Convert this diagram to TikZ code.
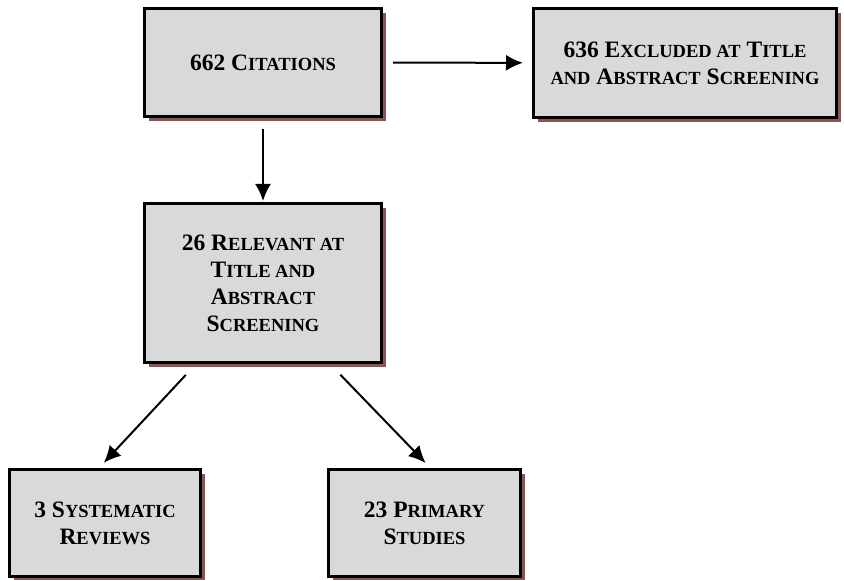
\documentclass[tikz,border=0pt]{standalone}
\usepackage{fontspec}
\setmainfont{Liberation Serif}
\usetikzlibrary{shadows,arrows.meta}
\newcommand\lsc[1]{{\fontsize{18.5}{27}\selectfont #1}}
\definecolor{boxgray}{RGB}{217,217,217}
\definecolor{shadowred}{RGB}{140,85,85}

\begin{document}
\begin{tikzpicture}[x=1pt, y=-1pt,
		stage/.style={rectangle, draw, line width=2.6pt, fill=boxgray, align=center,
			font=\fontsize{23.5}{27}\selectfont\bfseries,
			drop shadow={shadow xshift=4.5pt, shadow yshift=-4.5pt, fill=shadowred, opacity=1}},
		flow/.style={->, line width=2pt},
		>={Latex[length=17pt,width=16pt]}]
		\useasboundingbox (0,0) rectangle (844,580);
		\path (263,62.5) node(cit) [stage, minimum width=237.4pt, minimum height=108.4pt] {662 C\lsc{ITATIONS}};
		\path (685,63) node(exc) [stage, minimum width=303.4pt, minimum height=109.4pt] {636 E\lsc{XCLUDED AT} T\lsc{ITLE}\\ \lsc{AND} A\lsc{BSTRACT} S\lsc{CREENING}};
		\path (263,283) node(rel) [stage, minimum width=237.4pt, minimum height=159.4pt] {26 R\lsc{ELEVANT AT}\\ T\lsc{ITLE AND}\\ A\lsc{BSTRACT}\\ S\lsc{CREENING}};
		\path (105,523) node(sr) [stage, minimum width=191.4pt, minimum height=107.4pt] {3 S\lsc{YSTEMATIC}\\ R\lsc{EVIEWS}};
		\path (424.5,523) node(ps) [stage, minimum width=192.4pt, minimum height=107.4pt] {23 P\lsc{RIMARY}\\ S\lsc{TUDIES}};
		\draw [flow, shorten <=10pt, shorten >=9pt] (cit) to (exc);
		\draw [flow, shorten <=11pt, shorten >=1pt] (cit) to (rel);
		\draw [flow, shorten <=15pt, shorten >=7pt] ([xshift=-67pt]rel.south) to ([xshift=-6pt]sr.north);
		\draw [flow, shorten <=15pt, shorten >=7pt] ([xshift=67pt]rel.south) to ([xshift=6pt]ps.north);
	\end{tikzpicture}
\end{document}
